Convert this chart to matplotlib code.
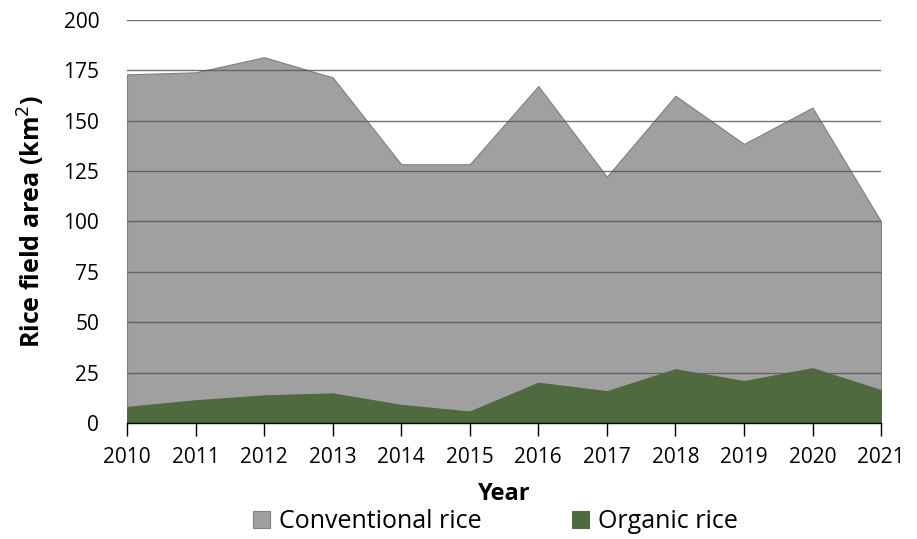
import matplotlib.pyplot as plt
import numpy as np

plt.rcParams["font.family"] = ["Open Sans", "DejaVu Sans"]

# ------------------------------------------------------------------ #
# Data (km^2)                                                          #
# ------------------------------------------------------------------ #
years = [2010, 2011, 2012, 2013, 2014, 2015, 2016, 2017, 2018, 2019, 2020, 2021]
conventional = [173, 174, 181.5, 171.5, 128.4, 128.4, 167.2, 122.2, 162.4, 138.5, 156.5, 100]
organic = [8, 11.3, 13.7, 14.7, 9, 5.7, 20, 15.8, 26.7, 20.8, 27.2, 16.3]
y_ticks = [0, 25, 50, 75, 100, 125, 150, 175, 200]

GRAY = "#A0A0A0"
GRAY_EDGE = "#7F7F7F"
GREEN = "#4F6A3E"

fig = plt.figure(figsize=(9.17, 5.39), dpi=100)
ax = fig.add_axes([0.1385, 0.2152, 0.8223, 0.7478])

ax.fill_between(years, 0, conventional, facecolor=GRAY, edgecolor=GRAY_EDGE,
                linewidth=0.8, zorder=2, label="Conventional rice")
ax.fill_between(years, 0, organic, facecolor=GREEN, edgecolor=GREEN,
                linewidth=0.8, zorder=3, label="Organic rice")

for y in y_ticks[1:]:
    ax.axhline(y, color="#5A5A5A", linewidth=1.0, zorder=4, alpha=0.85)

ax.set_xlim(years[0], years[-1])
ax.set_ylim(0, 200)
ax.set_xticks(years)
ax.set_yticks(y_ticks)

for s in ("top", "right", "left"):
    ax.spines[s].set_visible(False)
ax.spines["bottom"].set_color("black")
ax.spines["bottom"].set_linewidth(1.0)
ax.spines["bottom"].set_zorder(5)

ax.tick_params(axis="x", direction="out", length=9, width=1.0, pad=8,
               labelsize=15)
ax.tick_params(axis="y", length=0, pad=20, labelsize=15)

ax.set_ylabel("Rice field area (km$^2$)", fontsize=18, fontweight="bold",
              labelpad=12)
ax.set_xlabel("Year", fontsize=17, fontweight="bold", labelpad=10)

fig.legend(loc="center", bbox_to_anchor=(0.54, 0.032), ncol=2,
           frameon=False, fontsize=18, handlelength=0.7, handleheight=0.7,
           handletextpad=0.35, columnspacing=3.6, borderpad=0)

fig.savefig("out.png", dpi=100, facecolor="white")
